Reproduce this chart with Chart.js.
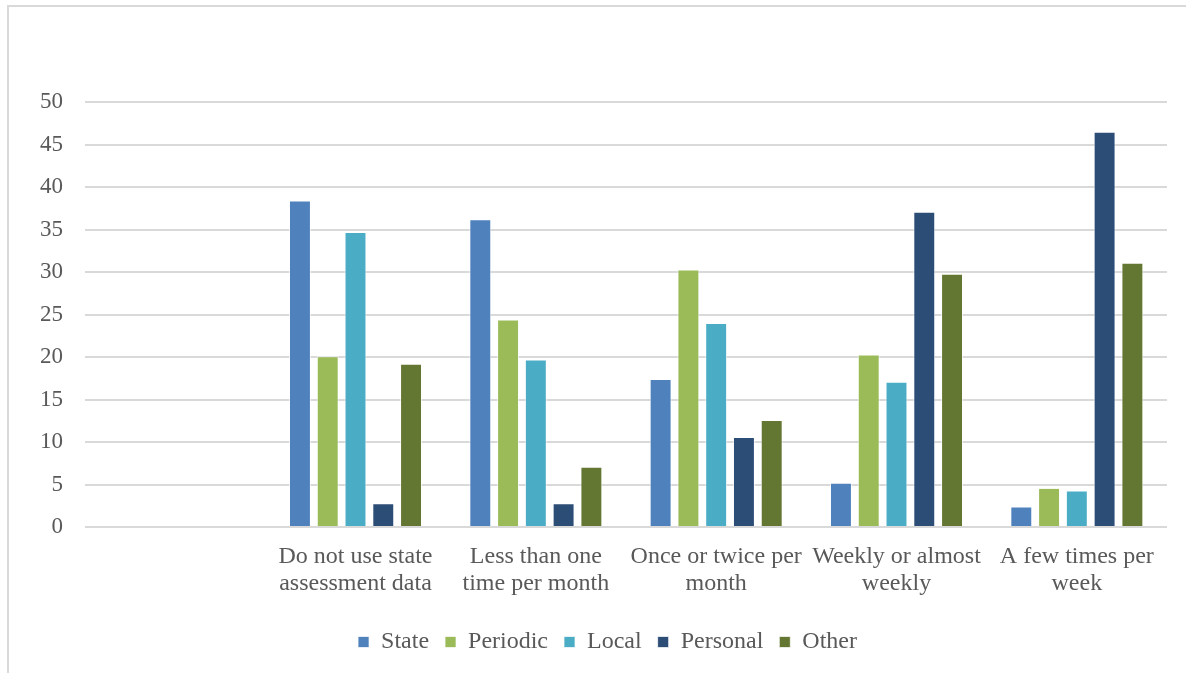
<!DOCTYPE html>
<html>
<head>
<meta charset="utf-8">
<script src="https://cdn.jsdelivr.net/npm/chart.js@4/dist/chart.umd.min.js"></script>
<style>
  html, body { margin: 0; padding: 0; background: #fff; }
  #wrap { position: relative; width: 1186px; height: 673px; overflow: hidden; }
  #frame {
    position: absolute; left: 7px; top: 5px; width: 1200px; height: 700px;
    border-left: 2px solid #D9D9D9; border-top: 2px solid #D9D9D9;
    box-sizing: border-box; pointer-events: none;
  }
  #barChart { position: absolute; left: 0; top: 0; }
</style>
</head>
<body>
<div id="wrap">
  <canvas id="barChart" width="1186" height="673"></canvas>
  <div id="frame"></div>
</div>
<script>
// Categories (first slot is left empty on purpose)
const categories = [
    '',
    ['Do not use state', 'assessment data'],
    ['Less than one', 'time per month'],
    ['Once or twice per', 'month'],
    ['Weekly or almost', 'weekly'],
    ['A few times per', 'week']
];

// Values per data source
const stateData    = [null, 38.4, 36.2, 17.4, 5.2, 2.4];
const periodicData = [null, 20.1, 24.4, 30.3, 20.3, 4.6];
const localData    = [null, 34.7, 19.7, 24.0, 17.1, 4.3];
const personalData = [null, 2.8, 2.8, 10.6, 37.1, 46.5];
const otherData    = [null, 19.2, 7.1, 12.6, 29.8, 31.1];

const yTicks = { min: 0, max: 50, step: 5 };

const serif = "'Liberation Serif', 'Times New Roman', serif";
const textColor = '#595959';

function series(label, data, color) {
    return {
        label: label,
        data: data,
        backgroundColor: color,
        borderColor: 'rgba(255,255,255,0.7)',
        borderWidth: 1,
        categoryPercentage: 0.77,
        barPercentage: 0.79
    };
}

// Push the legend a bit to the right of the canvas centre
const legendOffset = {
    id: 'legendOffset',
    afterLayout(chart) {
        chart.legend.left += 24;
        chart.legend.right += 24;
    }
};

const chartData = {
    labels: categories,
    datasets: [
        series('State', stateData, '#4F81BD'),
        series('Periodic', periodicData, '#9BBB59'),
        series('Local', localData, '#4BACC6'),
        series('Personal', personalData, '#2C4D75'),
        series('Other', otherData, '#637632')
    ]
};

const chartConfig = {
    type: 'bar',
    data: chartData,
    plugins: [legendOffset],
    options: {
        responsive: false,
        animation: false,
        layout: {
            padding: { top: 102, right: 19, bottom: 9, left: 0 }
        },
        plugins: {
            tooltip: { enabled: false },
            legend: {
                position: 'bottom',
                labels: {
                    color: textColor,
                    font: { family: serif, size: 24 },
                    boxWidth: 11,
                    boxHeight: 11,
                    padding: 16
                }
            }
        },
        scales: {
            x: {
                grid: { display: false },
                border: { display: false },
                ticks: {
                    color: textColor,
                    font: { family: serif, size: 24, lineHeight: 1.09 },
                    maxRotation: 0,
                    autoSkip: false,
                    padding: 9
                },
                afterFit: scale => { scale.height = 87; }
            },
            y: {
                min: yTicks.min,
                max: yTicks.max,
                border: { display: false },
                grid: { color: '#D9D9D9', lineWidth: 2, drawTicks: false },
                ticks: {
                    stepSize: yTicks.step,
                    color: textColor,
                    font: { family: serif, size: 23 },
                    padding: 22
                },
                afterFit: scale => { scale.width = 85; }
            }
        }
    }
};

const ctx = document.getElementById('barChart').getContext('2d');
new Chart(ctx, chartConfig);
</script>
</body>
</html>
